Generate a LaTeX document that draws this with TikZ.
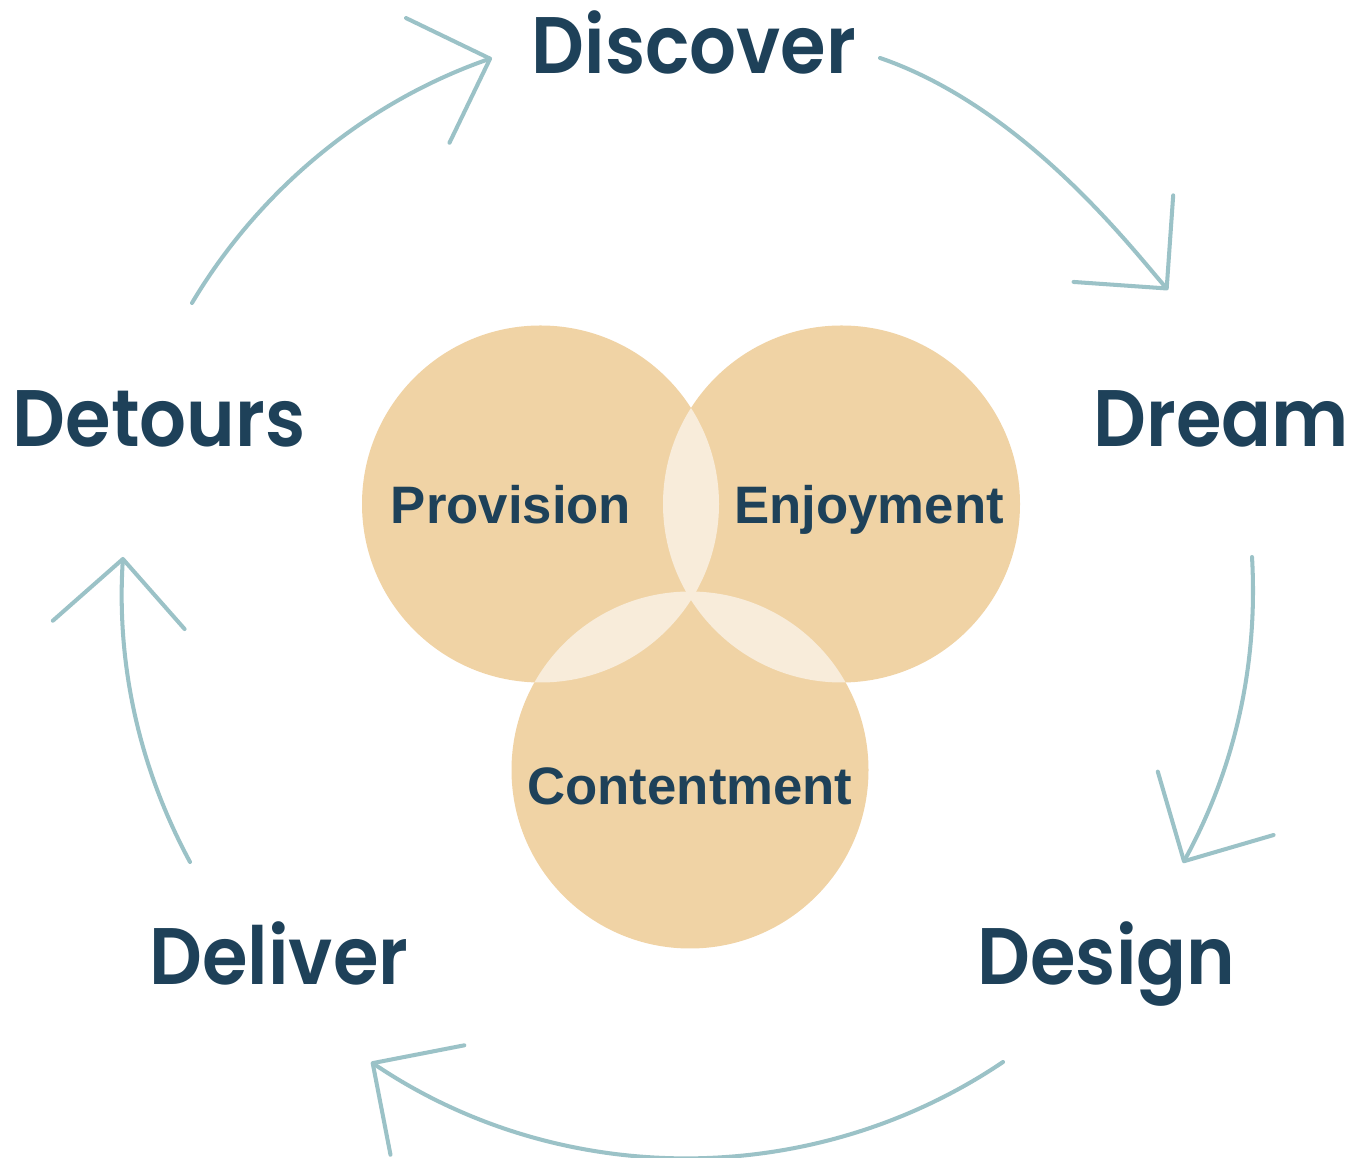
\documentclass[tikz,border=0pt]{standalone}
\usepackage{fontspec}
\usetikzlibrary{arrows.meta}
\newfontfamily\stagefont{Poppins SemiBold}[FakeStretch=0.92]
\newfontfamily\petalfont{Liberation Sans}
\definecolor{navy}{HTML}{1E4159}
\definecolor{loop}{HTML}{9BC2C7}
\definecolor{sand}{HTML}{F0D3A5}
\definecolor{cream}{HTML}{F8ECDA}
\tikzset{
    stage/.style={anchor=base,inner sep=0pt,text=navy,font=\stagefont\fontsize{22.8}{26}\selectfont},
    petal/.style={anchor=base,inner sep=0pt,text=navy,font=\petalfont\bfseries\fontsize{15}{18}\selectfont},
    cyc/.style={draw=loop,line width=1.15pt,line cap=round,looseness=0.88,
        -{Straight Barb[length=6.6mm,width=13.2mm,round]}}
}
\begin{document}
\begin{tikzpicture}
            \useasboundingbox (0,0) rectangle (13.6,11.58);

            % circles
            \begin{scope}[every node/.style={circle,fill=sand,minimum size=3.57cm,inner sep=0pt}]
                \node (P) at (5.405,6.54) {};
                \node (E) at (8.415,6.54) {};
                \node (C) at (6.90,3.88) {};
            \end{scope}

            % overlaps
            \begin{scope}
                \clip (P.center) circle (1.785);
                \fill [cream] (E.center) circle (1.785);
                \fill [cream] (C.center) circle (1.785);
            \end{scope}
            \begin{scope}
                \clip (E.center) circle (1.785);
                \fill [cream] (C.center) circle (1.785);
            \end{scope}

            \node [petal] (prov) at (5.11,6.34) {Provision};
            \node [petal] (enj) at (8.69,6.34) {Enjoyment};
            \node [petal] (cont) at (6.90,3.53) {Contentment};

            % stages
            \begin{scope}[every node/.style={stage}]
                \node (disc) at (6.94,10.84) {Discover};
                \node (dream) at (12.215,7.11) {Dream};
                \node (des) at (11.065,1.73) {Design};
                \node (deli) at (2.79,1.73) {Deliver};
                \node (det) at (1.59,7.11) {Detours};
            \end{scope}

            \coordinate (a1) at (1.92,8.55);
            \coordinate (b1) at (4.92,11.00);
            \coordinate (a2) at (8.80,11.00);
            \coordinate (b2) at (11.68,8.68);
            \coordinate (a3) at (12.52,6.01);
            \coordinate (b3) at (11.83,2.95);
            \coordinate (a4) at (10.03,0.96);
            \coordinate (b4) at (3.71,0.96);
            \coordinate (a5) at (1.90,2.96);
            \coordinate (b5) at (1.23,6.01);

            \begin{scope}
                \path (a1) edge [cyc,bend left=20] (b1);
                \path (a2) edge [cyc,out=-19,in=131,out looseness=1.05,in looseness=0.4] (b2);
                \path (a3) edge [cyc,bend left=16] (b3);
                \path (a4) edge [cyc,bend left=34,looseness=0.93] (b4);
                \path (a5) edge [cyc,bend left=16] (b5);
            \end{scope}
            \end{tikzpicture}
\end{document}
